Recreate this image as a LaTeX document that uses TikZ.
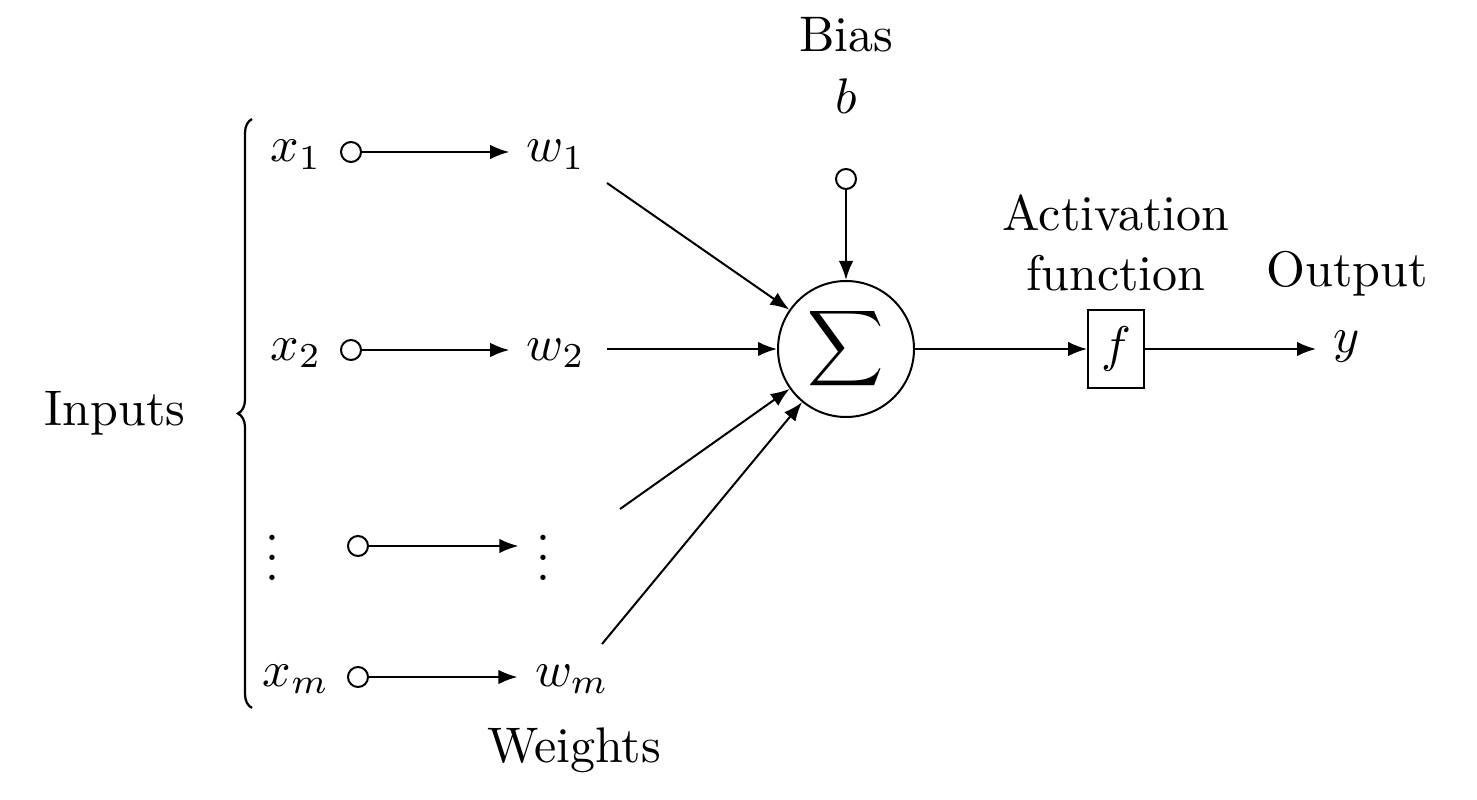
\documentclass[tikz,border=0pt]{standalone}
\usetikzlibrary{arrows.meta,decorations.pathreplacing}
\begin{document}
\begin{tikzpicture}[x=0.2pt,y=-0.2pt,line width=0.4pt,
  arr/.style={-{Latex[length=3.8pt,width=2.9pt]}},
  dot/.style={circle,draw,fill=white,inner sep=0pt,minimum size=4pt},
  lbl/.style={inner sep=0pt,anchor=base},
  var/.style={inner sep=3.33pt,anchor=base},
  bracestyle/.style={decorate,decoration={brace,amplitude=2.8pt},line width=0.45pt}]
\useasboundingbox (0,0) rectangle (1477,799);

% bias
\node[lbl] (bias) at (846,52) {Bias};
\node[lbl] (blab) at (846,114) {$b$};
\node[dot] (cb) at (846,179) {};

% summation
\node[circle,draw,minimum size=27.2pt,inner sep=0pt] (sum) at (846,349) {\scalebox{1.06}{$\displaystyle\sum$}};
\draw[arr] (cb) -- (sum);

% inputs row 1
\node[var] (x1) at (296,162) {$x_1$};
\node[dot] (c1) at (351,152) {};
\node[var] (w1) at (556,162) {$w_1$};
\draw[arr] (c1) -- (c1 -| w1.west);

% row 2
\node[var] (x2) at (296,360) {$x_2$};
\node[dot] (c2) at (351,350) {};
\node[var] (w2) at (556,360) {$w_2$};
\draw[arr] (c2) -- (c2 -| w2.west);

% row dots
\node[var] (xd) at (272,580) {$\vdots$};
\node[dot] (cd) at (358,546) {};
\node[var] (wd) at (543,580) {$\vdots$};
\draw[arr] (cd) -- (cd -| wd.west);

% row m
\node[var] (xm) at (296,686) {$x_m$};
\node[dot] (cm) at (358,677) {};
\node[var] (wm) at (572,686) {$w_m$};
\draw[arr] (cm) -- (cm -| wm.west);

% weighted lines into sum
\coordinate (s1) at (607,183);
\coordinate (s2) at (607,349);
\coordinate (s3) at (620,509);
\coordinate (s4) at (602,644);
\draw[arr] (s1) -- (sum);
\draw[arr] (s2) -- (sum);
\draw[arr] (s3) -- (sum);
\draw[arr] (s4) -- (sum);

% activation
\node[draw,inner xsep=2.6pt,inner ysep=3.33pt] (f) at (1116,349) {$f$};
\draw[arr] (sum) -- (f);
\node[align=center,inner sep=0pt,anchor=north] (act) at (1116,194) {Activation\\function};

% output
\node[lbl] (out) at (1347,287) {Output};
\node[inner sep=3.33pt,anchor=base west] (y) at (1316,352) {$y$};
\draw[arr] (f) -- (f -| y.west);

% labels
\node[lbl] (inputs) at (115,425) {Inputs};
\node[lbl] (weights) at (574,762) {Weights};

% brace
\coordinate (bb) at (252,708);
\coordinate (bt) at (252,119);
\draw[bracestyle] (bb) -- (bt);
\end{tikzpicture}
\end{document}
